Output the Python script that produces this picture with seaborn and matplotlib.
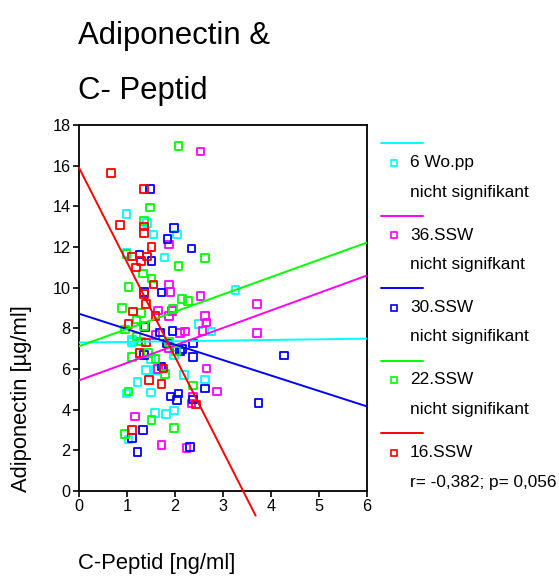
import numpy as np
import pandas as pd
import matplotlib
matplotlib.use("Agg")
import matplotlib.pyplot as plt
from matplotlib.lines import Line2D
import seaborn as sns

# ---------------- data ----------------
groups = ["6 Wo.pp", "36.SSW", "30.SSW", "22.SSW", "16.SSW"]
colors = ["#00FFFF", "#FF00FF", "#0000FF", "#00FF00", "#FF0000"]
sublabels = ["nicht signifikant", "nicht signifkant", "nicht signifikant",
             "nicht signifikant", "r= -0,382; p= 0,056"]

wopp_x = [0.99, 1.42, 1.55, 2.04, 0.99, 1.78, 2.49, 2.76, 1.10, 1.98, 1.50, 1.40,
          1.60, 2.19, 2.63, 1.22, 0.99, 1.50, 1.58, 1.81, 1.98, 1.03, 3.26, 1.10]
wopp_y = [13.63, 13.17, 12.61, 12.61, 11.70, 11.48, 8.21, 7.84, 7.34, 6.69, 6.49, 5.95,
          5.95, 5.71, 5.49, 5.35, 4.80, 4.85, 3.85, 3.79, 3.95, 2.54, 9.90, 7.43]

ssw36_x = [2.53, 1.875, 1.875, 1.91, 2.53, 1.65, 1.94, 1.875, 2.63, 2.66, 2.57, 2.21,
           2.10, 1.59, 1.87, 1.64, 2.66, 2.87, 2.375, 2.34, 1.17, 1.72, 2.24, 3.71, 3.71]
ssw36_y = [16.70, 12.13, 10.15, 9.80, 9.59, 8.87, 8.85, 8.61, 8.61, 8.28, 7.88, 7.84,
           7.76, 7.67, 7.02, 5.99, 6.03, 4.89, 4.61, 4.31, 3.66, 2.26, 2.10, 9.21, 7.76]

ssw30_x = [1.48, 1.98, 1.84, 2.34, 1.26, 1.51, 1.72, 1.35, 1.38, 1.95, 1.69, 2.375,
           1.83, 2.15, 2.10, 2.375, 1.35, 1.72, 2.63, 2.07, 1.91, 2.04, 2.38, 1.33,
           1.10, 1.22, 2.31, 4.27, 3.74]
ssw30_y = [14.85, 12.92, 12.38, 11.92, 11.63, 11.31, 9.76, 9.80, 8.08, 7.88, 7.80, 7.26,
           7.26, 6.97, 6.86, 6.58, 6.69, 6.12, 5.05, 4.80, 4.64, 4.48, 4.50, 3.00,
           2.62, 1.93, 2.16, 6.66, 4.33]

ssw22_x = [2.07, 1.48, 1.35, 0.99, 2.63, 2.07, 1.33, 1.51, 1.03, 2.15, 2.27, 0.89,
           1.29, 1.96, 1.20, 0.96, 1.36, 1.20, 1.29, 1.87, 2.02, 1.44, 1.10, 1.59,
           1.79, 2.38, 1.03, 1.51, 1.98, 0.96]
ssw22_y = [16.97, 13.94, 13.28, 11.66, 11.46, 11.07, 10.69, 10.46, 10.02, 9.44, 9.35, 8.99,
           8.74, 8.94, 8.44, 7.95, 8.10, 7.59, 7.35, 7.34, 6.90, 6.80, 6.58, 6.49,
           5.74, 5.18, 4.89, 3.49, 3.11, 2.79]

ssw16_x = [0.67, 1.35, 0.86, 1.35, 1.35, 1.51, 1.10, 1.42, 1.29, 1.19, 1.55, 1.35,
           1.40, 1.125, 1.59, 1.03, 1.40, 1.26, 1.76, 1.46, 1.72, 2.44, 1.10]
ssw16_y = [15.64, 14.85, 13.08, 13.00, 12.69, 12.00, 11.53, 11.53, 11.30, 11.00, 10.15, 9.69,
           9.20, 8.82, 8.61, 8.20, 7.30, 6.80, 6.03, 5.46, 5.26, 4.26, 3.00]

# regression lines (intercept, slope, x-extent)
fit_intercept = [7.30, 5.44, 8.72, 7.12, 15.90]
fit_slope = [0.032, 0.86, -0.76, 0.85, -4.65]
fit_xmax = [6.0, 6.0, 6.0, 6.0, 3.68]

xs_all = [wopp_x, ssw36_x, ssw30_x, ssw22_x, ssw16_x]
ys_all = [wopp_y, ssw36_y, ssw30_y, ssw22_y, ssw16_y]

frames = []
for g, xv, yv in zip(groups, xs_all, ys_all):
    frames.append(pd.DataFrame({"cpep": xv, "adipo": yv, "group": g}))
df = pd.concat(frames, ignore_index=True)

# ---------------- figure ----------------
sns.set_theme(style="white")
plt.rcParams["font.family"] = ["Liberation Sans", "DejaVu Sans"]
plt.rcParams["text.color"] = "black"
plt.rcParams["axes.labelcolor"] = "black"
plt.rcParams["xtick.color"] = "black"
plt.rcParams["ytick.color"] = "black"

W, H = 559, 577
fig = plt.figure(figsize=(W / 100, H / 100), dpi=100)
ax = fig.add_axes([79 / W, 1 - 491 / H, 288 / W, 366 / H])

for g, c in zip(groups, colors):
    sub = df[df["group"] == g]
    sns.scatterplot(data=sub, x="cpep", y="adipo", marker="s", s=30,
                    facecolor="none", edgecolor=c, linewidth=1.3,
                    ax=ax, legend=False, zorder=3)

for g, c, b0, b1, xm in zip(groups, colors, fit_intercept, fit_slope, fit_xmax):
    xx = np.array([0.0, xm])
    ax.plot(xx, b0 + b1 * xx, color=c, linewidth=1.4,
            clip_on=(g != "16.SSW"), zorder=4)

ax.set_xlim(0, 6)
ax.set_ylim(0, 18)
ax.set_xticks(range(0, 7))
ax.set_yticks(range(0, 19, 2))
ax.set_xlabel("")
ax.set_ylabel("")
ax.tick_params(axis="both", which="major", direction="out", length=4, width=1.2,
               labelsize=11.7, color="black", labelcolor="black", pad=2,
               bottom=True, left=True)
for sp in ax.spines.values():
    sp.set_visible(True)
    sp.set_color("black")
    sp.set_linewidth(1.3)
ax.set_facecolor("white")

# titles / axis labels
fig.text(78 / W, 1 - 36 / H, "Adiponectin &", fontsize=22.4, va="center", ha="left",
         color="black")
fig.text(78 / W, 1 - 91 / H, "C- Peptid", fontsize=22.4, va="center", ha="left",
         color="black")
fig.text(22 / W, 1 - 492 / H, "Adiponectin [µg/ml]", fontsize=15.8, rotation=90,
         va="bottom", ha="center", color="black")
fig.text(78 / W, 1 - 564 / H, "C-Peptid [ng/ml]", fontsize=15.8, va="center", ha="left",
         color="black")

# legend (manual layout)
for i, (g, c, sl) in enumerate(zip(groups, colors, sublabels)):
    y_line = 143 + 72.5 * i
    y_lab = y_line + 19.5
    y_sub = y_line + 49
    fig.add_artist(Line2D([381 / W, 423 / W], [1 - y_line / H, 1 - y_line / H],
                          color=c, linewidth=1.4, transform=fig.transFigure))
    fig.add_artist(Line2D([394 / W], [1 - y_lab / H], marker="s", markersize=5,
                          markerfacecolor="none", markeredgecolor=c,
                          markeredgewidth=1.2, linestyle="none",
                          transform=fig.transFigure))
    fig.text(410 / W, 1 - y_lab / H, g, fontsize=12.4, va="center", ha="left",
             color="black")
    fig.text(410 / W, 1 - y_sub / H, sl, fontsize=12.4, va="center", ha="left",
             color="black")

fig.savefig("out.png", dpi=100, facecolor="white")
